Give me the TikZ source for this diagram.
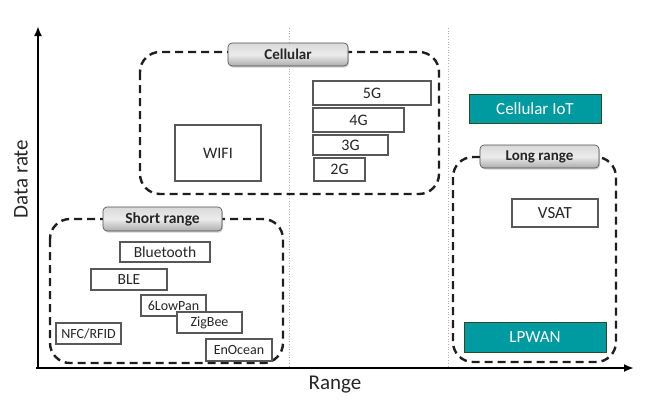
\documentclass[tikz,border=0pt]{standalone}
\usepackage{fontspec}
\setmainfont{Carlito}
\usetikzlibrary{arrows.meta,shadows}
\definecolor{teal1}{HTML}{009BA1}
\definecolor{tealbd}{HTML}{2F4A22}
\definecolor{bxbd}{HTML}{585858}
\definecolor{dashc}{HTML}{1E1E1E}
\definecolor{txt}{HTML}{262626}
\tikzset{
  bx/.style={draw=bxbd, line width=1.2pt, fill=white, text=txt, inner sep=0pt, font=\fontsize{15}{17}\selectfont},
  tealbx/.style={draw=tealbd, line width=1pt, fill=teal1, text=white, inner sep=0pt, font=\fontsize{17}{19}\selectfont},
  grp/.style={draw=dashc, line width=2.4pt, dash pattern=on 8pt off 5pt, rounded corners=20pt},
  glabel/.style={draw=gray!60!black, line width=0.6pt, rounded corners=4pt, inner sep=0pt, text=txt,
    top color=gray!30, bottom color=gray!65, middle color=gray!15,
    drop shadow={shadow xshift=1pt, shadow yshift=-1.5pt, opacity=0.35},
    font=\bfseries\fontsize{15}{17}\selectfont},
  axis/.style={line width=2pt, -{Latex[length=10pt,width=8pt]}},
  sep/.style={draw=gray!60, line width=0.7pt, dotted}
}
\begin{document}
\begin{tikzpicture}[x=1pt,y=-1pt]
\useasboundingbox (0,0) rectangle (655,408);
% separators
\coordinate (s1t) at (289,28); \coordinate (s1b) at (289,368);
\coordinate (s2t) at (448,28); \coordinate (s2b) at (448,368);
\draw[sep] (s1t) -- (s1b);
\draw[sep] (s2t) -- (s2b);
% axes
\coordinate (o) at (38,368);
\coordinate (xo) at (36,368);
\coordinate (ytip) at (38,26);
\coordinate (xtip) at (634,368);
\draw[axis] (xo) -- (xtip);
\draw[axis] (o) -- (ytip);
\node[font=\fontsize{21}{23}\selectfont, text=txt, rotate=90] (ylab) at (21,179) {Data rate};
\node[font=\fontsize{21}{23}\selectfont, text=txt] (xlab) at (335,385) {Range};
% groups
\draw[grp] (140,52) rectangle (439,194);
\draw[grp] (50,219) rectangle (283,363);
\draw[grp] (453,157) rectangle (616,362);
\node[glabel, minimum width=120pt, minimum height=23pt] (cell) at (288,54.5) {Cellular};
\node[glabel, minimum width=119pt, minimum height=24pt, font=\bfseries\fontsize{15.5}{17}\selectfont] (short) at (162.5,219) {Short range};
\node[glabel, minimum width=119pt, minimum height=23pt] (long) at (539.5,156.5) {Long range};
% cellular
\node[bx, minimum width=86pt, minimum height=56pt, font=\fontsize{16}{18}\selectfont] (wifi) at (218,153) {WIFI};
\node[bx, minimum width=118pt, minimum height=24pt, font=\fontsize{16}{18}\selectfont] (g5) at (372,93) {5G};
\node[bx, minimum width=91pt, minimum height=24pt, font=\fontsize{16}{18}\selectfont] (g4) at (358.5,120) {4G};
\node[bx, minimum width=75pt, minimum height=20pt, font=\fontsize{16}{18}\selectfont] (g3) at (350.5,145) {3G};
\node[bx, minimum width=51pt, minimum height=23pt, font=\fontsize{16}{18}\selectfont] (g2) at (339.5,169.5) {2G};
% short range
\node[bx, minimum width=90pt, minimum height=20pt, font=\fontsize{15.5}{17}\selectfont] (bt) at (165,252) {Bluetooth};
\node[bx, minimum width=76pt, minimum height=21pt, font=\fontsize{15.5}{17}\selectfont] (ble) at (129,279.5) {BLE};
\node[bx, minimum width=65pt, minimum height=21pt, font=\fontsize{14}{16}\selectfont] (lowpan) at (173.5,305.5) {6LowPan};
\node[bx, minimum width=65pt, minimum height=21pt, font=\fontsize{14}{16}\selectfont] (zig) at (209.5,322.5) {ZigBee};
\node[bx, minimum width=65pt, minimum height=21pt, font=\fontsize{14}{16}\selectfont] (nfc) at (88.5,333.5) {NFC/RFID};
\node[bx, minimum width=66pt, minimum height=22pt, font=\fontsize{14}{16}\selectfont] (eno) at (239,350) {EnOcean};
% long range
\node[tealbx, minimum width=132pt, minimum height=29pt] (ciot) at (535,108.5) {Cellular IoT};
\node[bx, minimum width=86pt, minimum height=28pt, font=\fontsize{17}{19}\selectfont] (vsat) at (555,213) {VSAT};
\node[tealbx, minimum width=142pt, minimum height=30pt] (lpwan) at (535,337) {LPWAN};
\end{tikzpicture}
\end{document}
